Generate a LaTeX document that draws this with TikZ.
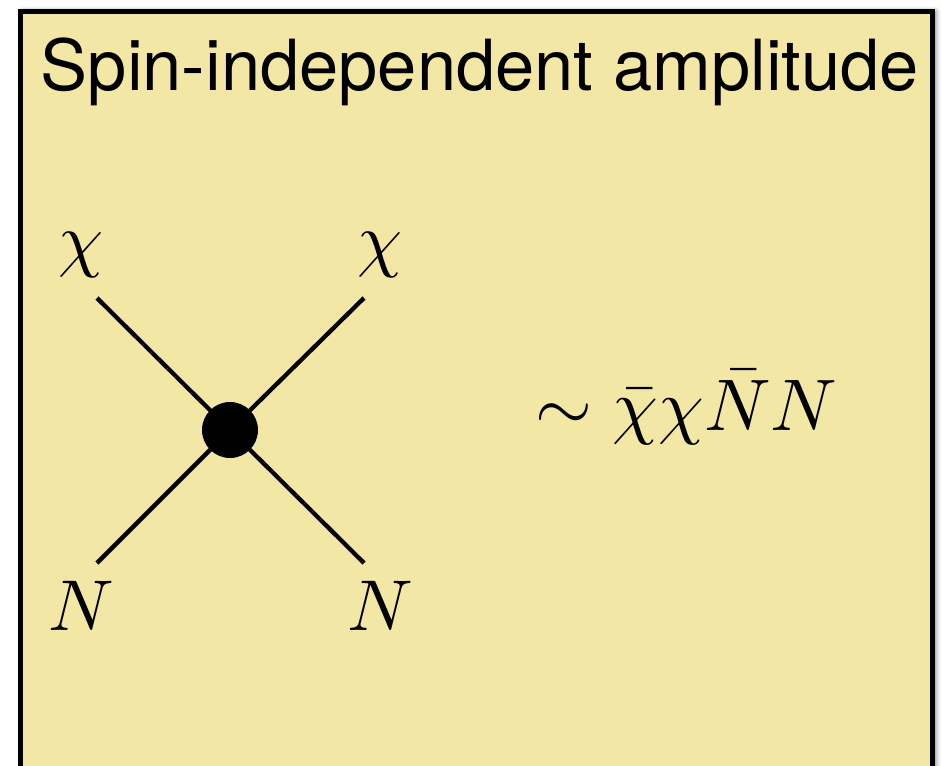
\documentclass[tikz,border=0pt]{standalone}
\usepackage{fontspec}
\setsansfont{TeX Gyre Heros}
\usetikzlibrary{positioning, shadows.blur}
\definecolor{panelYellow}{HTML}{F2E7A4}

\begin{document}
\begin{tikzpicture}[x=1pt, y=-1pt,
    panel/.style={draw=black, line width=5pt, fill=panelYellow, blur shadow={shadow xshift=3pt, shadow yshift=0pt, shadow blur radius=5pt, shadow opacity=60}},
    panelTitle/.style={font=\sffamily\fontsize{70.5}{80}\selectfont, inner sep=0pt},
    particle/.style={scale=7.2, inner sep=0pt},
    leg/.style={line width=4.3pt},
    blob/.style={circle, fill=black, minimum size=56pt, inner sep=0pt},
]
\useasboundingbox (0,0) rectangle (941,765);
\clip (0,0) rectangle (941,765);
\path[panel] (20.5,11.5) rectangle (932.5,820);
\node[panelTitle] (title) at (480,72) {Spin-independent amplitude};
% vertex and legs
\node[blob] (vtx) at (230,430) {};
\coordinate (chiL) at (97,298);
\coordinate (chiR) at (364,298);
\coordinate (nucL) at (97,563);
\coordinate (nucR) at (364,563);
\draw[leg] (chiL) -- (vtx.center) -- (nucR);
\draw[leg] (chiR) -- (vtx.center) -- (nucL);
\node[particle] (lchiL) at (81,255) {$\chi$};
\node[particle] (lchiR) at (380,255) {$\chi$};
\node[particle] (lnucL) at (81,606) {$N$};
\node[particle] (lnucR) at (380,606) {$N$};
\node[particle, scale=1.015, anchor=base west] (op) at (534,430) {$\sim \bar{\chi}\chi\bar{N}N$};
\end{tikzpicture}
\end{document}
